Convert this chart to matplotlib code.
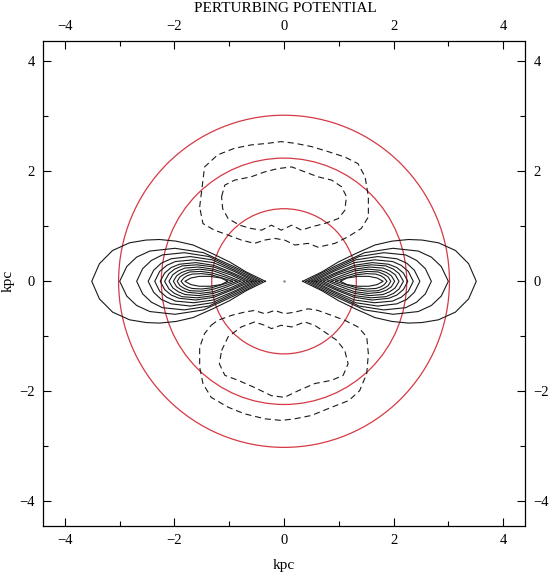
import numpy as np
import matplotlib.pyplot as plt
from matplotlib.patches import Circle
from matplotlib.ticker import MultipleLocator

plt.rcParams['font.family'] = ['Liberation Serif', 'DejaVu Serif']

# red reference circles (kpc)
circle_radii = [1.32, 2.24, 3.02]

# positive (solid) contours: upper half of the right-hand lobe, tip -> outer end
# the lobes are mirror symmetric in x and y
solid_x = [
    [0.34, 0.69, 0.99, 1.30, 1.66, 1.97, 2.27, 2.52, 2.82, 3.13, 3.37, 3.51],
    [0.40, 0.92, 1.47, 1.99, 2.45, 2.69, 2.87, 3.00],
    [0.45, 0.90, 1.37, 1.82, 2.22, 2.42, 2.58, 2.69],
    [0.50, 0.90, 1.31, 1.71, 2.06, 2.24, 2.38, 2.48],
    [0.55, 0.91, 1.29, 1.65, 1.98, 2.14, 2.27, 2.36],
    [0.60, 0.93, 1.28, 1.61, 1.91, 2.06, 2.18, 2.26],
    [0.66, 0.96, 1.28, 1.59, 1.86, 2.00, 2.10, 2.18],
    [0.72, 0.98, 1.29, 1.56, 1.81, 1.93, 2.03, 2.10],
    [0.79, 1.04, 1.29, 1.54, 1.76, 1.87, 1.96, 2.02],
    [0.86, 1.08, 1.31, 1.52, 1.72, 1.82, 1.90, 1.95],
    [0.94, 1.13, 1.33, 1.51, 1.68, 1.77, 1.83, 1.88],
    [1.03, 1.15, 1.35, 1.55, 1.70, 1.81],
]
solid_y = [
    [0.0, 0.17, 0.35, 0.50, 0.66, 0.73, 0.76, 0.75, 0.70, 0.56, 0.32, 0.0],
    [0.0, 0.27, 0.52, 0.60, 0.55, 0.44, 0.27, 0.0],
    [0.0, 0.23, 0.45, 0.52, 0.48, 0.38, 0.23, 0.0],
    [0.0, 0.20, 0.39, 0.45, 0.41, 0.33, 0.20, 0.0],
    [0.0, 0.18, 0.34, 0.39, 0.36, 0.29, 0.18, 0.0],
    [0.0, 0.15, 0.29, 0.34, 0.31, 0.25, 0.15, 0.0],
    [0.0, 0.14, 0.26, 0.30, 0.28, 0.22, 0.14, 0.0],
    [0.0, 0.12, 0.22, 0.26, 0.24, 0.19, 0.12, 0.0],
    [0.0, 0.10, 0.19, 0.22, 0.20, 0.16, 0.10, 0.0],
    [0.0, 0.08, 0.15, 0.18, 0.17, 0.13, 0.08, 0.0],
    [0.0, 0.06, 0.12, 0.14, 0.13, 0.10, 0.06, 0.0],
    [0.0, 0.06, 0.09, 0.09, 0.06, 0.0],
]

upper_outer_x = [-1.54, -1.45, -1.21, -0.90, -0.60, -0.29, -0.05, 0.20, 0.50, 0.80, 1.11, 1.35,
                 1.48, 1.54, 1.54, 1.41, 1.17, 0.93, 0.62, 0.44, 0.20, 0.01, -0.17, -0.35,
                 -0.54, -0.78, -1.02, -1.27, -1.48, -1.54]
upper_outer_y = [1.35, 2.08, 2.30, 2.42, 2.48, 2.51, 2.54, 2.51, 2.45, 2.36, 2.26, 2.14,
                 1.90, 1.54, 1.17, 0.96, 0.81, 0.69, 0.62, 0.69, 0.66, 0.75, 0.78, 0.75,
                 0.69, 0.75, 0.84, 0.93, 1.05, 1.35]
upper_inner_x = [-1.14, -1.08, -0.90, -0.60, -0.35, -0.11, 0.14, 0.38, 0.62, 0.87, 1.05, 1.14,
                 1.11, 0.99, 0.74, 0.50, 0.32, 0.14, -0.05, -0.23, -0.41, -0.60, -0.81, -1.02,
                 -1.12, -1.14]
upper_inner_y = [1.54, 1.75, 1.84, 1.90, 1.99, 2.05, 2.08, 1.99, 1.90, 1.84, 1.72, 1.54,
                 1.29, 1.14, 1.05, 0.99, 0.93, 1.02, 0.93, 1.02, 0.93, 0.96, 1.02, 1.14,
                 1.32, 1.54]
lower_outer_x = [-1.33, -1.21, -0.96, -0.72, -0.54, -0.35, -0.17, 0.01, 0.20, 0.44, 0.62, 0.87,
                 1.11, 1.35, 1.51, 1.54, 1.51, 1.38, 1.18, 0.87, 0.50, 0.20, -0.05, -0.35,
                 -0.72, -1.02, -1.33, -1.48, -1.54, -1.54, -1.45, -1.33]
lower_outer_y = [-0.80, -0.71, -0.62, -0.56, -0.53, -0.59, -0.53, -0.59, -0.56, -0.50, -0.53, -0.62,
                 -0.71, -0.83, -1.01, -1.32, -1.68, -1.99, -2.17, -2.29, -2.44, -2.50, -2.53, -2.50,
                 -2.41, -2.29, -2.11, -1.86, -1.56, -1.20, -0.95, -0.80]
lower_inner_x = [-1.14, -1.02, -0.78, -0.54, -0.35, -0.23, -0.05, 0.14, 0.38, 0.56, 0.74, 0.96,
                 1.11, 1.17, 1.08, 0.87, 0.56, 0.26, 0.01, -0.23, -0.54, -0.84, -1.08, -1.18,
                 -1.14]
lower_inner_y = [-1.26, -1.01, -0.83, -0.74, -0.80, -0.86, -0.80, -0.83, -0.74, -0.80, -0.92, -1.07,
                 -1.26, -1.50, -1.71, -1.80, -1.86, -1.99, -2.11, -2.08, -1.93, -1.80, -1.71, -1.50,
                 -1.26]

dashed_x = [upper_outer_x, upper_inner_x, lower_outer_x, lower_inner_x]
dashed_y = [upper_outer_y, upper_inner_y, lower_outer_y, lower_inner_y]

fig = plt.figure(figsize=(5.57, 5.74), dpi=100)
ax = fig.add_axes([0.0772, 0.0836, 0.8654, 0.845])

for xs, ys in zip(solid_x, solid_y):
    # close the loop through the lower half
    full_x = np.array(xs + xs[-2::-1])
    full_y = np.array(ys + [-v for v in ys[-2::-1]])
    ax.plot(full_x, full_y, color='#1a1a1a', lw=0.8)
    ax.plot(-full_x, full_y, color='#1a1a1a', lw=0.8)

for xs, ys in zip(dashed_x, dashed_y):
    ax.plot(xs, ys, color='#1a1a1a', lw=0.8, dashes=(5.5, 3.5))

ax.plot([0], [0], marker='.', ms=1.5, color='gray')

for r in circle_radii:
    ax.add_patch(Circle((0, 0), r, fill=False, edgecolor='#d43a45', lw=0.9))

ax.set_xlim(-4.4, 4.4)
ax.set_ylim(-4.45, 4.37)
ax.xaxis.set_major_locator(MultipleLocator(2))
ax.xaxis.set_minor_locator(MultipleLocator(1))
ax.yaxis.set_major_locator(MultipleLocator(2))
ax.yaxis.set_minor_locator(MultipleLocator(1))
ax.tick_params(which='both', direction='in', top=True, right=True,
               labeltop=True, labelright=True, labelsize=10.5, pad=6, width=0.8)
ax.tick_params(which='major', length=6)
ax.tick_params(which='minor', length=3.5)
for s in ax.spines.values():
    s.set_linewidth(0.9)

fig.text(0.513, 1 - 8 / 574, 'PERTURBING POTENTIAL', ha='center', va='center', fontsize=11)
fig.text(0.51, 1 - 565 / 574, 'kpc', ha='center', va='center', fontsize=11)
fig.text(8 / 557, 1 - 281 / 574, 'kpc', ha='center', va='center', fontsize=11, rotation=90)

plt.savefig('out.png', dpi=100)
